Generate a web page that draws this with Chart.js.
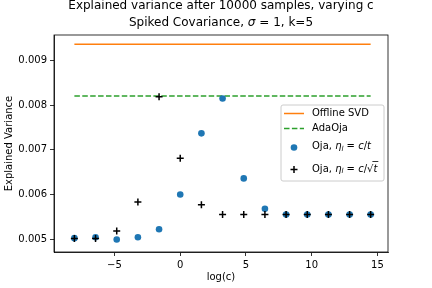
<!DOCTYPE html>
<html>
<head>
<meta charset="utf-8">
<script src="https://cdn.jsdelivr.net/npm/chart.js@4/dist/chart.umd.min.js"></script>
<style>
html, body { margin: 0; padding: 0; background: #fff; }
</style>
</head>
<body>
<canvas id="chart" width="432" height="288"></canvas>
<script>
// values
const logC = [-8.05, -6.44, -4.83, -3.22, -1.61, 0, 1.61, 3.22, 4.83, 6.44, 8.05, 9.66, 11.27, 12.88, 14.48];
const ojaInvT = [0.00502, 0.00504, 0.00499, 0.00504, 0.00522, 0.00600, 0.00737, 0.00815, 0.00636, 0.00568, 0.00555, 0.00555, 0.00555, 0.00555, 0.00555];
const ojaInvSqrtT = [0.00501, 0.00501, 0.00518, 0.00583, 0.00819, 0.00681, 0.00577, 0.00555, 0.00555, 0.00555, 0.00555, 0.00555, 0.00555, 0.00555, 0.00555];
const offlineSvd = 0.00937;
const adaOja = 0.00821;
const xTicks = [-5, 0, 5, 10, 15];
const yTicks = [0.005, 0.006, 0.007, 0.008, 0.009];

const FONT = "DejaVu Sans";
const ORANGE = "#ff7f0e";
const GREEN = "#2ca02c";
const BLUE = "#1f77b4";

const first = logC[0];
const last = logC[logC.length - 1];

// draws the outer box, titles, axis labels and the legend
const decorations = {
    id: "decorations",
    afterDraw(chart) {
        const ctx = chart.ctx;
        const a = chart.chartArea;
        const cx = (a.left + a.right) / 2;
        ctx.save();

        ctx.strokeStyle = "#000";
        ctx.lineWidth = 0.8;
        ctx.strokeRect(a.left, a.top, a.right - a.left, a.bottom - a.top);

        ctx.fillStyle = "#000";
        ctx.textBaseline = "middle";
        ctx.textAlign = "center";
        ctx.font = "12px " + FONT;
        ctx.fillText("Explained variance after 10000 samples, varying c", cx, 6);

        // second title line with italic sigma
        const parts = [
            ["Spiked Covariance, ", "12px " + FONT],
            ["\u03c3", "italic 12px " + FONT],
            [" = 1", "12px " + FONT],
            [", k=5", "12px " + FONT]
        ];
        let total = 0;
        parts.forEach(p => { ctx.font = p[1]; total += ctx.measureText(p[0]).width; });
        let x = cx - total / 2;
        ctx.textAlign = "left";
        parts.forEach(p => {
            ctx.font = p[1];
            ctx.fillText(p[0], x, 23);
            x += ctx.measureText(p[0]).width;
        });

        ctx.font = "10px " + FONT;
        ctx.textAlign = "center";
        ctx.fillText("log(c)", cx, 277);

        ctx.save();
        ctx.translate(9, (a.top + a.bottom) / 2);
        ctx.rotate(-Math.PI / 2);
        ctx.fillText("Explained Variance", 0, 0);
        ctx.restore();

        // legend
        const lx = 281, ly = 105, lw = 103, lh = 76;
        ctx.fillStyle = "rgba(255,255,255,0.8)";
        ctx.strokeStyle = "#cccccc";
        ctx.lineWidth = 1;
        ctx.beginPath();
        ctx.roundRect(lx, ly, lw, lh, 2);
        ctx.fill();
        ctx.stroke();

        ctx.lineWidth = 1.5;
        ctx.strokeStyle = ORANGE;
        ctx.beginPath();
        ctx.moveTo(284, 113.5);
        ctx.lineTo(304, 113.5);
        ctx.stroke();

        ctx.strokeStyle = GREEN;
        ctx.setLineDash([5.5, 2.4]);
        ctx.beginPath();
        ctx.moveTo(284, 128.5);
        ctx.lineTo(304, 128.5);
        ctx.stroke();
        ctx.setLineDash([]);

        ctx.fillStyle = BLUE;
        ctx.beginPath();
        ctx.arc(294, 147.5, 3.3, 0, Math.PI * 2);
        ctx.fill();

        ctx.strokeStyle = "#000";
        ctx.lineWidth = 1.5;
        ctx.beginPath();
        ctx.moveTo(290.5, 169.5); ctx.lineTo(297.5, 169.5);
        ctx.moveTo(294, 166); ctx.lineTo(294, 173);
        ctx.stroke();

        ctx.fillStyle = "#000";
        ctx.textAlign = "left";
        ctx.font = "10px " + FONT;
        ctx.fillText("Offline SVD", 312, 113.5);
        ctx.fillText("AdaOja", 312, 128.5);

        const mathRow = (y, sqrt) => {
            let px = 312;
            const put = (t, f, dy) => {
                ctx.font = f;
                ctx.fillText(t, px, y + (dy || 0));
                px += ctx.measureText(t).width;
            };
            put("Oja, ", "10px " + FONT);
            put("\u03b7", "italic 10px " + FONT);
            put("l", "italic 7px " + FONT, 2.5);
            put(" = ", "10px " + FONT);
            put("c", "italic 10px " + FONT);
            put("/", "10px " + FONT);
            if (sqrt) {
                put("\u221a", "10px " + FONT);
                const sx = px;
                put("t", "italic 10px " + FONT);
                ctx.lineWidth = 0.8;
                ctx.beginPath();
                ctx.moveTo(sx - 1, y - 7.5);
                ctx.lineTo(px + 1, y - 7.5);
                ctx.stroke();
            } else {
                put("t", "italic 10px " + FONT);
            }
        };
        mathRow(146.5, false);
        mathRow(169, true);

        ctx.restore();
    }
};

const tickFmt = v => (v < 0 ? "\u2212" + Math.abs(v) : String(v));

new Chart(document.getElementById("chart"), {
    type: "scatter",
    data: {
        datasets: [
            {
                label: "Offline SVD",
                data: [{ x: first, y: offlineSvd }, { x: last, y: offlineSvd }],
                showLine: true,
                borderColor: ORANGE,
                borderWidth: 1.5,
                pointRadius: 0,
                order: 3
            },
            {
                label: "AdaOja",
                data: [{ x: first, y: adaOja }, { x: last, y: adaOja }],
                showLine: true,
                borderColor: GREEN,
                borderWidth: 1.5,
                borderDash: [5.5, 2.4],
                pointRadius: 0,
                order: 2
            },
            {
                label: "Oja, c/t",
                data: logC.map((x, i) => ({ x: x, y: ojaInvT[i] })),
                backgroundColor: BLUE,
                borderColor: BLUE,
                borderWidth: 0,
                pointRadius: 3.3,
                order: 1
            },
            {
                label: "Oja, c/sqrt(t)",
                data: logC.map((x, i) => ({ x: x, y: ojaInvSqrtT[i] })),
                pointStyle: "cross",
                borderColor: "#000",
                borderWidth: 1.5,
                pointRadius: 3.5,
                order: 0
            }
        ]
    },
    options: {
        responsive: false,
        animation: false,
        layout: { padding: { left: 0, right: 44, top: 35, bottom: 0 } },
        plugins: {
            legend: { display: false },
            title: { display: false },
            tooltip: { enabled: false }
        },
        scales: {
            x: {
                min: -9.6,
                max: 15.8,
                afterBuildTicks: s => { s.ticks = xTicks.map(v => ({ value: v })); },
                afterFit: s => { s.height = 36; },
                grid: { drawOnChartArea: false, drawTicks: true, tickLength: 4, color: "#000", lineWidth: 0.8 },
                border: { display: true, color: "#000", width: 0.8 },
                ticks: {
                    padding: 3,
                    color: "#000",
                    font: { family: FONT, size: 10 },
                    maxRotation: 0,
                    callback: v => tickFmt(v)
                }
            },
            y: {
                min: 0.00471,
                max: 0.009575,
                afterBuildTicks: s => { s.ticks = yTicks.map(v => ({ value: v })); },
                afterFit: s => { s.width = 54; },
                grid: { drawOnChartArea: false, drawTicks: true, tickLength: 4, color: "#000", lineWidth: 0.8 },
                border: { display: true, color: "#000", width: 0.8 },
                ticks: {
                    padding: 3,
                    color: "#000",
                    font: { family: FONT, size: 10 },
                    callback: v => v.toFixed(3)
                }
            }
        }
    },
    plugins: [decorations]
});
</script>
</body>
</html>
